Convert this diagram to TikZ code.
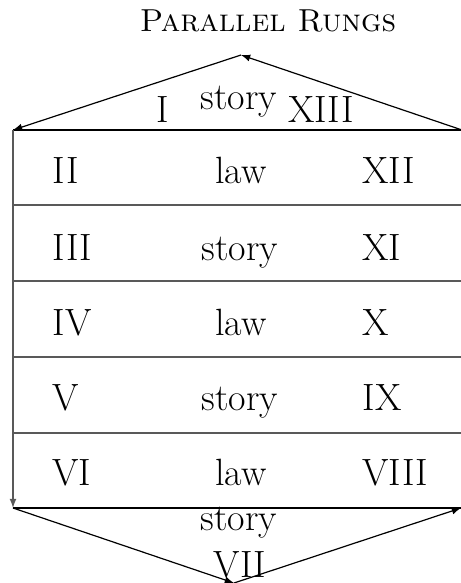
\documentclass[tikz,border=0pt]{standalone}
\usepackage{tikz}
\usetikzlibrary{arrows}

\begin{document}
\begin{tikzpicture}[x=0.5pt,y=-0.5pt,>=latex,line width=0.6pt,
  rung/.style={draw=black!65},
  lbl/.style={font=\fontsize{19}{23}\selectfont,inner sep=0pt}]
\useasboundingbox (0,0) rectangle (460,583);
\coordinate (top) at (241,55);
\coordinate (tl) at (13,130);
\coordinate (tr) at (462,130);
\coordinate (bl) at (13,508);
\coordinate (br) at (461,508);
\coordinate (bot) at (234,583);
\node[font=\fontsize{15.9}{19}\selectfont\scshape,inner sep=0pt,anchor=base] (title) at (268,32) {Parallel Rungs};
\draw[->] (tr) -- (top);
\draw[->] (top) -- (tl);
\draw (tl) -- (tr);
\draw[->,rung] (tl) -- (bl);
\draw[rung] (13,205) -- (462,205);
\draw[rung] (13,281) -- (462,281);
\draw[rung] (13,357) -- (462,357);
\draw[rung] (13,433) -- (462,433);
\draw (bl) -- (br);
\draw[->] (bl) -- (bot);
\draw[->] (bot) -- (br);
\node[lbl,anchor=base] (r1) at (163,123) {I};
\node[lbl,anchor=base] (s1) at (239,110) {story};
\node[lbl,anchor=base] (r13) at (321,123) {XIII};
\node[lbl,anchor=base west] (r2) at (52,183) {II};
\node[lbl,anchor=base] (s2) at (241,183) {law};
\node[lbl,anchor=base west] (r12) at (362,183) {XII};
\node[lbl,anchor=base west] (r3) at (52,260) {III};
\node[lbl,anchor=base] (s3) at (240,260) {story};
\node[lbl,anchor=base west] (r11) at (362,260) {XI};
\node[lbl,anchor=base west] (r4) at (52,335) {IV};
\node[lbl,anchor=base] (s4) at (241,335) {law};
\node[lbl,anchor=base west] (r10) at (362,335) {X};
\node[lbl,anchor=base west] (r5) at (52,410) {V};
\node[lbl,anchor=base] (s5) at (240,410) {story};
\node[lbl,anchor=base west] (r9) at (362,410) {IX};
\node[lbl,anchor=base west] (r6) at (52,485) {VI};
\node[lbl,anchor=base] (s6) at (241,485) {law};
\node[lbl,anchor=base west] (r8) at (362,485) {VIII};
\node[lbl,anchor=base] (s7) at (239,530) {story};
\node[lbl,anchor=base] (r7) at (240,577) {VII};
\end{tikzpicture}
\end{document}
